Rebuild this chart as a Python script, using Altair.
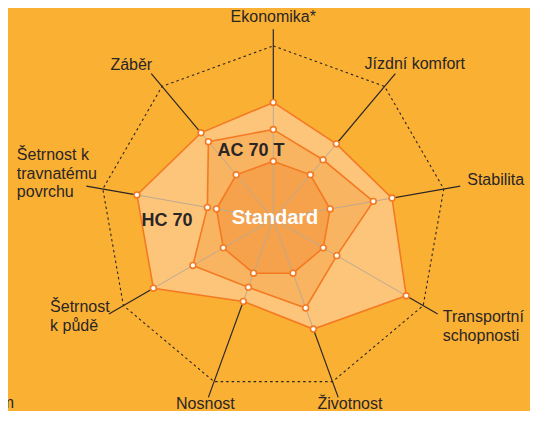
import math
import altair as alt
import pandas as pd

# ---------------- data ----------------
axis_labels = [
    "Ekonomika*", "Jízdní komfort", "Stabilita", "Transportní\nschopnosti",
    "Životnost", "Nosnost", "Šetrnost\nk půdě", "Šetrnost k\ntravnatému\npovrchu", "Záběr",
]
hc70 = [2.02, 1.70, 2.09, 2.66, 2.03, 1.52, 2.40, 2.40, 1.95]
ac70t = [1.55, 1.34, 1.76, 1.27, 1.64, 1.26, 1.61, 1.16, 1.75]
standard = [1.0, 1.0, 1.0, 1.0, 1.0, 1.0, 1.0, 1.0, 1.0]
scale_max = 3.0
spoke_len = 3.29
series_names = ["HC 70", "AC 70 T", "Standard"]

# ---------------- styles ----------------
BG = "#FAB033"
FILLS = {"HC 70": "#FCC57A", "AC 70 T": "#F9B462", "Standard": "#F6A24C"}
EDGE = "#F47A22"
DARK = "#2A2626"
GRAY = "#BBAA92"
FONT = "Liberation Sans"

W, H = 522, 403
CX, CY, UNIT = 265.3, 211.0, 57.7

n = len(axis_labels)
ang = [2 * math.pi * i / n for i in range(n)]


def pt(r, a):
    return r * math.sin(a), r * math.cos(a)


def ring(vals, name):
    rows = []
    for k in range(n + 1):
        i = k % n
        x, y = pt(vals[i], ang[i])
        rows.append({"x": x, "y": y, "i": k, "s": name})
    return pd.DataFrame(rows)


X = alt.X("x:Q", scale=alt.Scale(domain=[-CX / UNIT, (W - CX) / UNIT], nice=False, zero=False), axis=None)
Y = alt.Y("y:Q", scale=alt.Scale(domain=[-(H - CY) / UNIT, CY / UNIT], nice=False, zero=False), axis=None)

layers = []

# dotted outer nonagon
outer = ring([scale_max] * n, "outer")
layers.append(
    alt.Chart(outer).mark_line(color=DARK, strokeWidth=1.1, strokeDash=[2.5, 3])
    .encode(x=X, y=Y, order="i:Q")
)

# black spokes (full length)
sp = pd.DataFrame([
    {"x": 0.0, "y": 0.0, "x2": pt(spoke_len, a)[0], "y2": pt(spoke_len, a)[1]} for a in ang
])
layers.append(
    alt.Chart(sp).mark_rule(color=DARK, strokeWidth=1.2)
    .encode(x=X, y=Y, x2="x2:Q", y2="y2:Q")
)

# polygons
for name, vals in zip(series_names, [hc70, ac70t, standard]):
    layers.append(
        alt.Chart(ring(vals, name)).mark_line(fill=FILLS[name], stroke=EDGE, strokeWidth=1.6, strokeJoin="miter")
        .encode(x=X, y=Y, order="i:Q")
    )

# light spokes inside the polygons
gsp = pd.DataFrame([
    {"x": 0.0, "y": 0.0, "x2": pt(hc70[i], ang[i])[0], "y2": pt(hc70[i], ang[i])[1]} for i in range(n)
])
layers.append(
    alt.Chart(gsp).mark_rule(color=GRAY, strokeWidth=1.0)
    .encode(x=X, y=Y, x2="x2:Q", y2="y2:Q")
)

# vertex markers
pts = pd.concat([ring(v, s).iloc[:n] for s, v in zip(series_names, [hc70, ac70t, standard])])
layers.append(
    alt.Chart(pts).mark_circle(color="white", opacity=1, stroke=EDGE, strokeWidth=1.6, size=34)
    .encode(x=X, y=Y)
)

# axis labels: (align, baseline, dx, dy)
lab_style = [
    ("center", "alphabetic", 0, -7.5),
    ("center", "alphabetic", 19.5, -4.5),
    ("left", "alphabetic", 7, -1),
    ("left", "top", 5, -4.5),
    ("center", "alphabetic", 11.7, 11.5),
    ("center", "alphabetic", -3, 11.5),
    ("left", "top", -58.8, -14.5),
    ("left", "top", -69.5, -39),
    ("center", "alphabetic", -20, -3.3),
]
for i, (txt, st) in enumerate(zip(axis_labels, lab_style)):
    x, y = pt(spoke_len, ang[i])
    d = pd.DataFrame([{"x": x, "y": y, "t": txt}])
    layers.append(
        alt.Chart(d).mark_text(
            align=st[0], baseline=st[1], dx=st[2], dy=st[3], font=FONT, fontSize=16,
            color=DARK, lineBreak="\n", lineHeight=18.5,
        ).encode(x=X, y=Y, text="t:N")
    )

# series labels
ser_style = [
    ("HC 70", DARK, "bold", 18, -106.3, 7),
    ("AC 70 T", DARK, "bold", 18, -22.3, -63),
    ("Standard", "white", "bold", 20, 1.7, 5),
]
for txt, col, wt, fs, dx, dy in ser_style:
    d = pd.DataFrame([{"x": 0.0, "y": 0.0, "t": txt}])
    layers.append(
        alt.Chart(d).mark_text(
            align="center", baseline="alphabetic", dx=dx, dy=dy, font=FONT, fontSize=fs,
            fontWeight=wt, color=col,
        ).encode(x=X, y=Y, text="t:N")
    )

# cut-off footnote text at the left edge
d = pd.DataFrame([{"x": 0.0, "y": 0.0, "t": "standardem"}])
layers.append(
    alt.Chart(d).mark_text(
        align="right", baseline="alphabetic", dx=-259.3, dy=189, font=FONT, fontSize=16,
        color=DARK, clip=True,
    ).encode(x=X, y=Y, text="t:N")
)

chart = (
    alt.layer(*layers)
    .properties(width=W, height=H, background=BG, padding=0,
                autosize=alt.AutoSizeParams(type="none"))
    .configure_view(strokeWidth=0)
)

chart.save("out.html", embed_options={"renderer": "svg", "actions": False})
